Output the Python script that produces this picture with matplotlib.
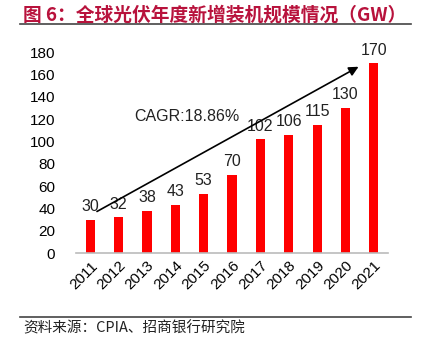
import matplotlib
matplotlib.use("Agg")
import matplotlib.pyplot as plt
from matplotlib.lines import Line2D

plt.rcParams['font.family'] = ['Liberation Sans', 'Noto Sans CJK SC', 'DejaVu Sans']

years = ['2011', '2012', '2013', '2014', '2015', '2016', '2017', '2018', '2019', '2020', '2021']
capacity = [30, 32, 38, 43, 53, 70, 102, 106, 115, 130, 170]
y_ticks = [0, 20, 40, 60, 80, 100, 120, 140, 160, 180]
cagr_label = 'CAGR:18.86%'
title = '图 6：全球光伏年度新增装机规模情况（GW）'
source = '资料来源：CPIA、招商银行研究院'

fig = plt.figure(figsize=(4.23, 3.49), dpi=100)
ax = fig.add_axes([0.18, 0.275, 0.737, 0.576])

x = list(range(len(years)))
ax.bar(x, capacity, width=0.32, color='#FF0000', zorder=2)
for xi, v in zip(x, capacity):
    ax.text(xi, v + 5, str(v), ha='center', va='bottom', fontsize=11.5, color='#222222')

# 趋势箭头
ax.annotate('', xy=(9.55, 168), xytext=(0.15, 36),
            arrowprops=dict(arrowstyle='-|>', color='black', lw=1.2, mutation_scale=14))
ax.text(1.55, 122, cagr_label, ha='left', va='center', fontsize=11.5, color='#222222')

ax.set_xlim(-0.5, 10.5)
ax.set_ylim(0, 180)
ax.set_yticks(y_ticks)
ax.set_xticks(x)
ax.set_xticklabels(years, rotation=45, ha='right', rotation_mode='anchor', fontsize=11)
ax.tick_params(axis='y', length=0, labelsize=11, pad=15)
ax.tick_params(axis='x', length=0, pad=4)
for s in ['top', 'right', 'left']:
    ax.spines[s].set_visible(False)
ax.spines['bottom'].set_color('#BBBBBB')
ax.spines['bottom'].set_linewidth(1.2)

# 标题和来源
fig.text(0.055, 0.958, title, ha='left', va='center', fontsize=13.5, fontweight='bold',
         color='#B8123C', family=['Noto Sans CJK SC', 'DejaVu Sans'])
fig.add_artist(Line2D([0.047, 0.972], [0.932, 0.932], transform=fig.transFigure,
                      color='#444444', lw=1.2))
fig.add_artist(Line2D([0.047, 0.972], [0.092, 0.092], transform=fig.transFigure,
                      color='#444444', lw=1.2))
fig.text(0.055, 0.06, source, ha='left', va='center', fontsize=10.5, color='#222222',
         family=['Noto Sans CJK SC', 'DejaVu Sans'])

fig.savefig('out.png', dpi=100)
